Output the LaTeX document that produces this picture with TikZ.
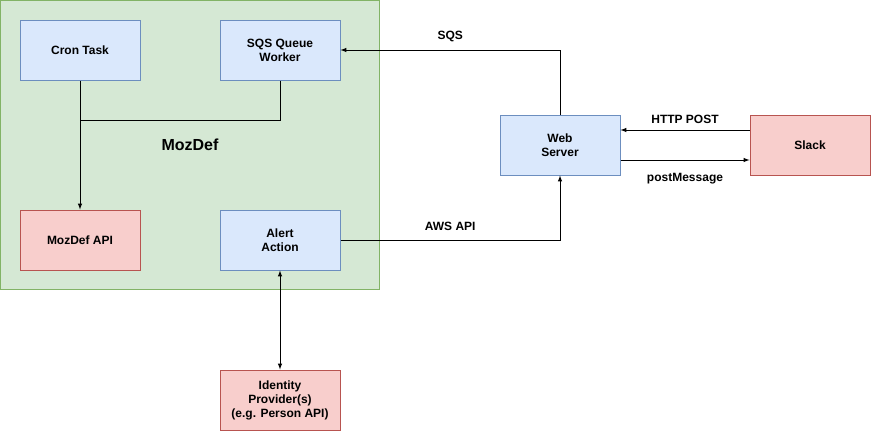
\documentclass[tikz,border=0pt]{standalone}
\usepackage{fontspec}
\setmainfont{Liberation Sans}
\usetikzlibrary{arrows}
\tikzset{>=latex}
\definecolor{bluefill}{HTML}{DAE8FC}
\definecolor{blueline}{HTML}{6C8EBF}
\definecolor{redfill}{HTML}{F8CECC}
\definecolor{redline}{HTML}{B85450}
\definecolor{greenfill}{HTML}{D5E8D4}
\definecolor{greenline}{HTML}{82B366}
\tikzset{
  box/.style = {draw, line width=1pt, minimum width=120pt, minimum height=60pt, align=center, inner sep=2pt},
  bluebox/.style = {box, fill=bluefill, draw=blueline},
  redbox/.style = {box, fill=redfill, draw=redline},
  lbl/.style = {inner sep=4pt}
}
\begin{document}
\begin{tikzpicture}[x=1pt, y=-1pt, line width=1pt, font=\fontsize{12}{14}\selectfont\bfseries]
\useasboundingbox (0,0) rectangle (871,431);

% container
\node[draw=greenline, fill=greenfill, line width=1pt, minimum width=379pt, minimum height=289pt, font=\fontsize{16}{19}\selectfont\bfseries] (mozdef) at (190,145) {MozDef};

\node[bluebox] (cron) at (80,50) {Cron Task};
\node[bluebox] (sqs) at (280,50) {SQS Queue\\Worker};
\node[redbox] (api) at (80,240) {MozDef API};
\node[bluebox] (alert) at (280,240) {Alert\\Action};
\node[bluebox] (web) at (560,145) {Web\\Server};
\node[redbox] (slack) at (810,145) {Slack};
\node[redbox] (idp) at (280,400) {Identity\\Provider(s)\\(e.g. Person API)};

\coordinate (join) at (80,120);

\draw[->] (cron) -- (api);
\draw (sqs.south) |- (join);
\draw[->] (web.north) |- node[pos=0.75, above, lbl, yshift=4pt] {SQS} (sqs.east);
\draw[->] ([yshift=15pt]slack.west) -- node[above, lbl, yshift=2pt] {HTTP POST} ([yshift=15pt]web.east);
\draw[->] ([yshift=-15pt]web.east) -- node[below, lbl, yshift=-9pt] {postMessage} ([yshift=-15pt]slack.west);
\draw[->] (alert.east) -| node[pos=0.25, above, lbl, yshift=5pt] {AWS API} (web.south);
\draw[<->] (alert) -- (idp);

\end{tikzpicture}
\end{document}
